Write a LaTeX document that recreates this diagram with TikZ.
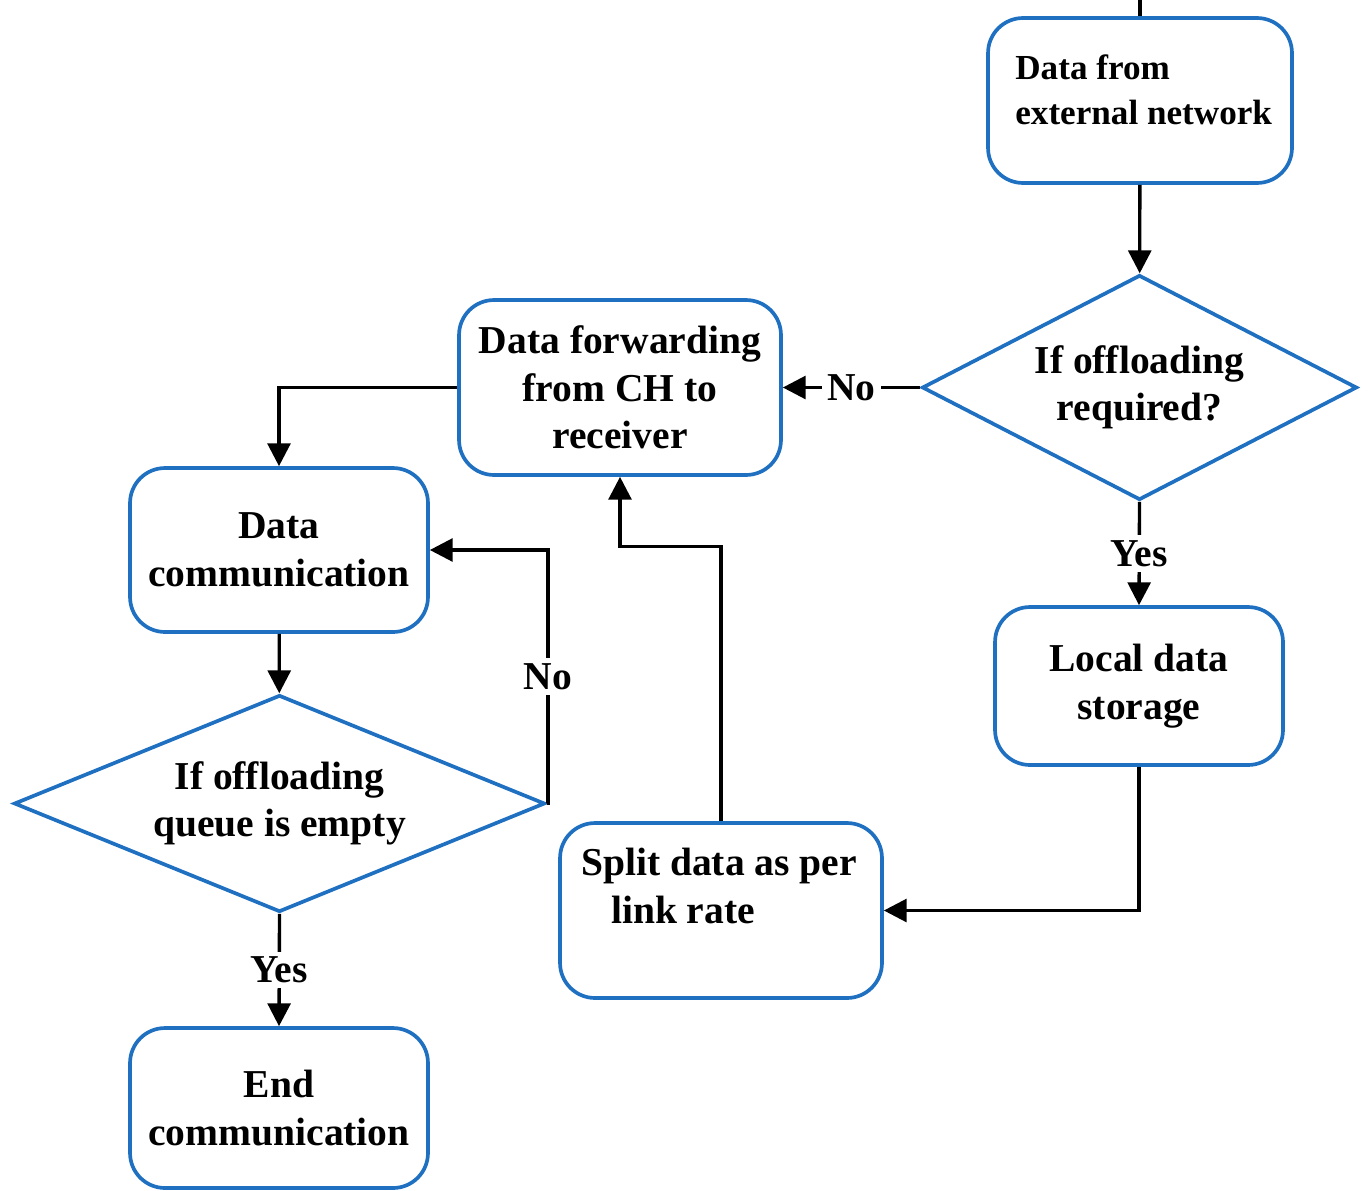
\documentclass[tikz,border=0pt]{standalone}
\usepackage{fontspec}
\setmainfont{Liberation Serif}
\usetikzlibrary{arrows.meta,shapes.geometric}
\definecolor{boxblue}{RGB}{31,112,193}
\begin{document}
\begin{tikzpicture}[x=0.02cm,y=-0.02cm,
  txt/.style={font=\fontsize{22.5pt}{27pt}\selectfont\bfseries},
  box/.style={draw=boxblue,line width=2.1pt,rounded corners=0.7cm,align=center,inner sep=0pt,txt},
  dec/.style={draw=boxblue,line width=2.1pt,shape=diamond,inner sep=0pt,align=center,txt},
  conn/.style={line width=1.9pt,-{Triangle[length=13pt,width=13pt]}},
  lbl/.style={fill=white,inner sep=3pt,txt}]
\useasboundingbox (0,0) rectangle (1371,1190);

\node[box,minimum width=6.08cm,minimum height=3.3cm] (b1) at (1140,100.5) {};
\node[align=left,inner sep=0pt,anchor=west,
      font=\fontsize{20pt}{25.5pt}\selectfont\bfseries] (b1text) at (1015,90)
      {Data from\\external network};
\node[dec,aspect=1.93,minimum width=8.7cm,minimum height=4.5cm] (d1) at (1139.5,387.5)
      {If offloading\\required?};
\node[box,minimum width=6.44cm,minimum height=3.5cm] (b3) at (620,387.5)
      {Data forwarding\\from CH to\\receiver};
\node[box,minimum width=5.96cm,minimum height=3.28cm] (b4) at (279,550)
      {Data\\communication};
\node[dec,aspect=2.45,minimum width=10.62cm,minimum height=4.34cm] (d2) at (279.5,803.5)
      {If offloading\\queue is empty};
\node[box,minimum width=5.96cm,minimum height=3.2cm] (end) at (279,1108)
      {End\\communication};
\node[box,minimum width=5.76cm,minimum height=3.16cm] (loc) at (1139,686)
      {Local data\\storage};
\node[box,minimum width=6.44cm,minimum height=3.5cm] (split) at (721,910.5) {};
\node[txt,align=left,inner sep=0pt] (splittext) at (719,886)
      {Split data as per\\\hspace{0.6cm}link rate};

\coordinate (top) at (1140,0);
\coordinate (nocorner) at (548,550);

\draw[line width=1.9pt] (top) -- (b1.north);
\draw[conn] (b1) -- (d1);
\draw[conn] (d1.west) -- node[lbl]{No} (b3.east);
\draw[conn] (d1.south) -- node[lbl]{Yes} (loc.north);
\draw[conn] (loc.south) |- (split.east);
\draw[conn] (split.north) -- ++(0,-275) -| (b3.south);
\draw[conn] (b3.west) -| (b4.north);
\draw[conn] (b4) -- (d2);
\draw[conn] (d2.east) -| node[lbl,pos=0.75]{No} (nocorner) -- (b4.east);
\draw[conn] (d2.south) -- node[lbl]{Yes} (end.north);
\end{tikzpicture}
\end{document}
